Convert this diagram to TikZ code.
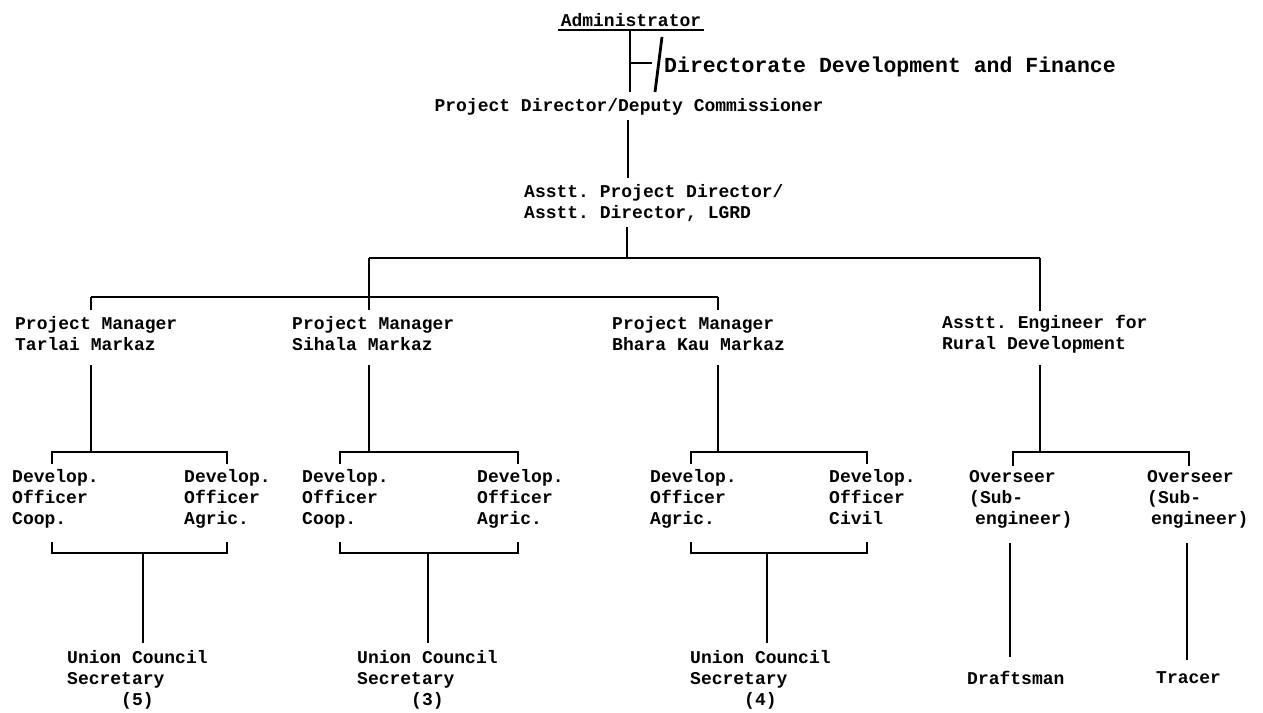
\documentclass[tikz,border=0pt]{standalone}
\usepackage{fontspec}
\setmonofont{Liberation Mono}
\begin{document}
\begin{tikzpicture}[x=1pt,y=-1pt,
    rule/.style={line width=2.8pt},
    post/.style={anchor=west,align=left}]
\tikzset{every node/.style={inner sep=0pt,font=\ttfamily\bfseries\fontsize{18}{21}\selectfont}}
%\tikzset{every node/.style={inner sep=0pt,
%                            font=\ttfamily\fontsize{18}{21}\selectfont
%                           }}
\useasboundingbox[fill=white] (0,0) rectangle (1263,712);

% head of the chart
\node[inner xsep=3pt] (admin) at (631,20) {Administrator};
\node[post,font=\ttfamily\bfseries\fontsize{21.5}{24}\selectfont] (dirdev) at (664,67) {Directorate Development and Finance};
\node (pd) at (629,107) {Project Director/Deputy Commissioner};
\node[post] (apd) at (524,203) {Asstt. Project Director/\\Asstt. Director, LGRD};

% project managers and engineer
\node[post] (pmA) at (15,334) {Project Manager\\Tarlai Markaz};
\node[post] (pmB) at (292,334) {Project Manager\\Sihala Markaz};
\node[post] (pmC) at (612,334) {Project Manager\\Bhara Kau Markaz};
\node[post] (ae) at (942,334) {Asstt. Engineer for\\Rural Development};

% officers
\node[post] (doA1) at (12,499) {Develop.\\Officer\\Coop.};
\node[post] (doA2) at (184,499) {Develop.\\Officer\\Agric.};
\node[post] (doB1) at (302,499) {Develop.\\Officer\\Coop.};
\node[post] (doB2) at (477,499) {Develop.\\Officer\\Agric.};
\node[post] (doC1) at (650,499) {Develop.\\Officer\\Agric.};
\node[post] (doC2) at (829,499) {Develop.\\Officer\\Civil\vphantom{g}};
\node[post] (ovA) at (969,499) {Overseer\\(Sub-\\\hspace{6pt}engineer)};
\node[post] (ovB) at (1147,499) {Overseer\\(Sub-\\\hspace{4pt}engineer)};

% bottom row
\node[post] (ucA) at (67,680) {Union Council\\Secretary\\~~~~~(5)};
\node[post] (ucB) at (357,680) {Union Council\\Secretary\\~~~~~(3)};
\node[post] (ucC) at (690,680) {Union Council\\Secretary\\~~~~~(4)};
\node[post] (draft) at (967,678) {Draftsman};
\node[post] (tracer) at (1156,678) {Tracer};

% joints
\coordinate (adm-s) at (630,30);
\coordinate (pd-n) at (630,92);
\coordinate (tick) at (630,63);
\coordinate (sl-t) at (662,37);
\coordinate (sl-b) at (655,92);
\coordinate (pd-s) at (628,120);
\coordinate (apd-n) at (628,178);
\coordinate (apd-s) at (627,227);
\coordinate (busL) at (369,258);
\coordinate (busR) at (1040,258);
\coordinate (subL) at (91,297);
\coordinate (subR) at (718,297);

\draw[rule] (admin.west |- adm-s) -- (admin.east |- adm-s);
\draw[rule] (adm-s) -- (pd-n);
\draw[rule] (tick) -- ++(22,0);
\draw[rule] (sl-t) -- (sl-b);
\draw[rule] (pd-s) -- (apd-n);
\draw[rule] (apd-s) -- (apd-s |- busL);
\draw[rule] (busL) -- (busR);
\draw[rule] (busR) -- ++(0,53);
\draw[rule] (busL) -- ++(0,52);
\draw[rule] (subL) -- (subR);
\draw[rule] (subL) -- ++(0,13);
\draw[rule] (subR) -- ++(0,13);

% markaz groups
\coordinate (pmA-s) at (91,365);
\coordinate (pmB-s) at (369,365);
\coordinate (pmC-s) at (718,365);
\coordinate (ae-s) at (1040,365);
\coordinate (brA-l) at (52,452);
\coordinate (brA-r) at (227,452);
\coordinate (brB-l) at (340,452);
\coordinate (brB-r) at (518,452);
\coordinate (brC-l) at (691,452);
\coordinate (brC-r) at (867,452);
\coordinate (brD-l) at (1013,452);
\coordinate (brD-r) at (1189,452);

\draw[rule] (pmA-s) -- (pmA-s |- brA-l);
\draw[rule] (pmB-s) -- (pmB-s |- brB-l);
\draw[rule] (pmC-s) -- (pmC-s |- brC-l);
\draw[rule] (ae-s) -- (ae-s |- brD-l);
\draw[rule] ([yshift=-12pt]brA-l) -- (brA-l) -- (brA-r) -- ([yshift=-12pt]brA-r);
\draw[rule] ([yshift=-12pt]brB-l) -- (brB-l) -- (brB-r) -- ([yshift=-12pt]brB-r);
\draw[rule] ([yshift=-12pt]brC-l) -- (brC-l) -- (brC-r) -- ([yshift=-12pt]brC-r);
\draw[rule] ([yshift=-14pt]brD-l) -- (brD-l) -- (brD-r) -- ([yshift=-14pt]brD-r);

\coordinate (bkA-l) at (52,553);
\coordinate (bkA-r) at (227,553);
\coordinate (bkB-l) at (340,553);
\coordinate (bkB-r) at (518,553);
\coordinate (bkC-l) at (691,553);
\coordinate (bkC-r) at (867,553);
\coordinate (ucA-n) at (143,643);
\coordinate (ucB-n) at (428,643);
\coordinate (ucC-n) at (767,643);

\draw[rule] ([yshift=11pt]bkA-l) -- (bkA-l) -- (bkA-r) -- ([yshift=11pt]bkA-r);
\draw[rule] ([yshift=11pt]bkB-l) -- (bkB-l) -- (bkB-r) -- ([yshift=11pt]bkB-r);
\draw[rule] ([yshift=11pt]bkC-l) -- (bkC-l) -- (bkC-r) -- ([yshift=11pt]bkC-r);
\draw[rule] (bkA-l -| ucA-n) -- (ucA-n);
\draw[rule] (bkB-l -| ucB-n) -- (ucB-n);
\draw[rule] (bkC-l -| ucC-n) -- (ucC-n);

% overseers
\coordinate (ovA-s) at (1010,543);
\coordinate (draft-n) at (1010,657);
\coordinate (ovB-s) at (1187,543);
\coordinate (tracer-n) at (1187,660);
\draw[rule] (ovA-s) -- (draft-n);
\draw[rule] (ovB-s) -- (tracer-n);
\end{tikzpicture}
\end{document}
